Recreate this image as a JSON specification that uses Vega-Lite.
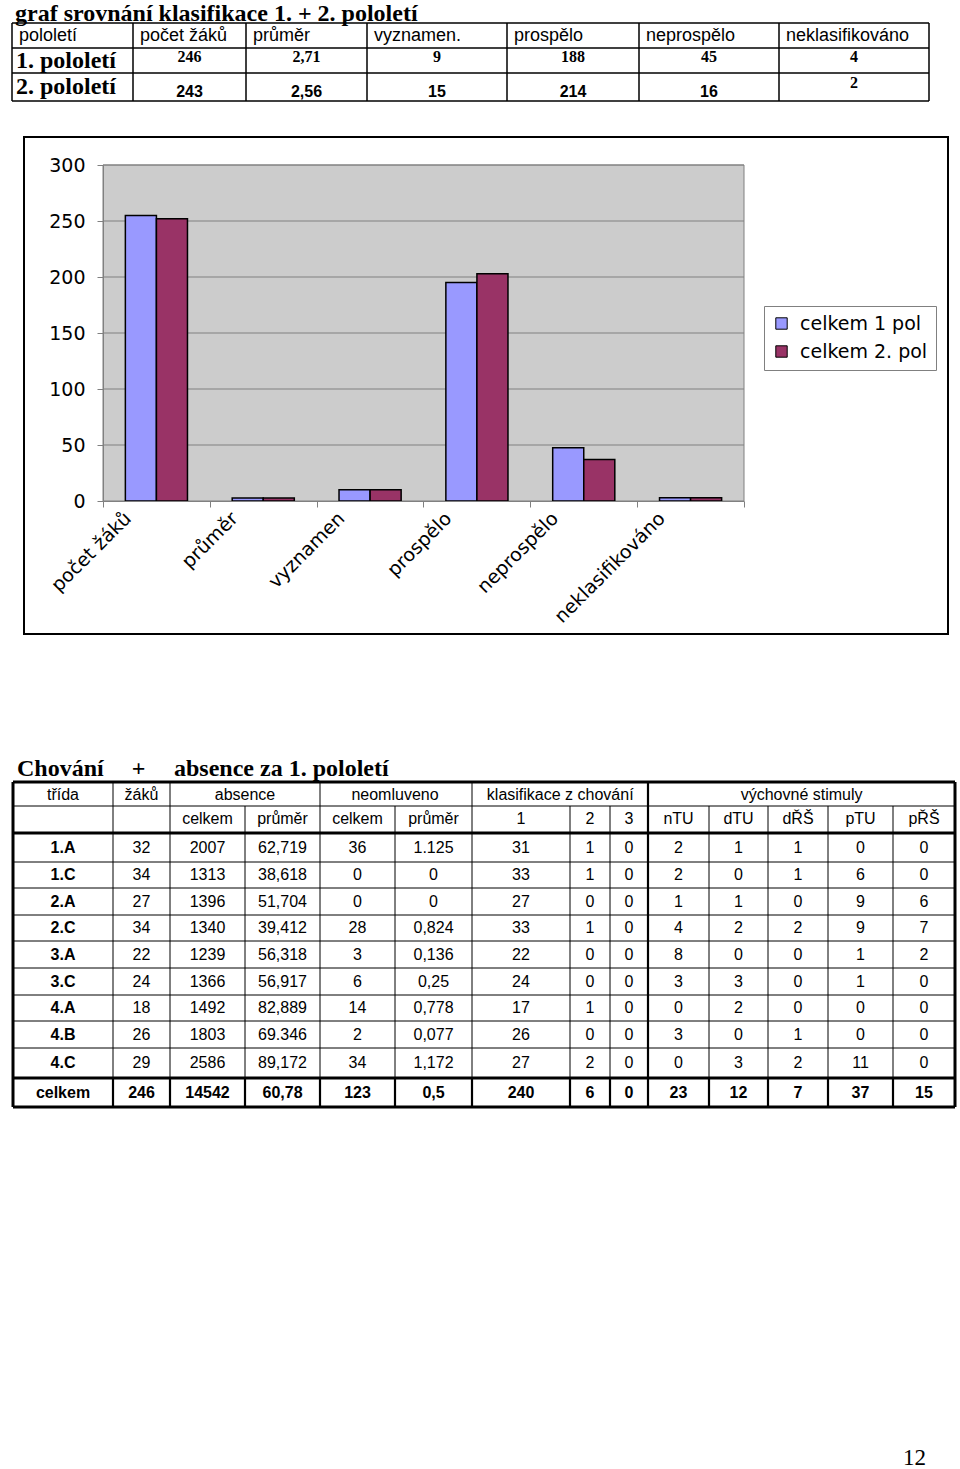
{
"$schema": "https://vega.github.io/schema/vega-lite/v6.json",
"width": 960, "height": 1469, "autosize": "none", "padding": 0, "background": "white",
"config": {"view": {"stroke": null}},
"title": {"text": "12", "orient": "bottom", "anchor": "end", "frame": "group", "offset": -22, "dx": -34, "font": "Liberation Serif", "fontSize": 23, "fontWeight": "normal", "color": "black"},
"datasets": {
 "bars": [
  {"kat": "počet žáků", "pol": "celkem 1 pol", "v": 255}, {"kat": "počet žáků", "pol": "celkem 2. pol", "v": 252},
  {"kat": "průměr", "pol": "celkem 1 pol", "v": 2.7}, {"kat": "průměr", "pol": "celkem 2. pol", "v": 2.6},
  {"kat": "vyznamen", "pol": "celkem 1 pol", "v": 10}, {"kat": "vyznamen", "pol": "celkem 2. pol", "v": 10},
  {"kat": "prospělo", "pol": "celkem 1 pol", "v": 195}, {"kat": "prospělo", "pol": "celkem 2. pol", "v": 203},
  {"kat": "neprospělo", "pol": "celkem 1 pol", "v": 47.5}, {"kat": "neprospělo", "pol": "celkem 2. pol", "v": 37},
  {"kat": "neklasifikováno", "pol": "celkem 1 pol", "v": 3}, {"kat": "neklasifikováno", "pol": "celkem 2. pol", "v": 3}
 ],
 "t1_head": [{"r":0,"c":0,"t":"pololetí"},{"r":0,"c":1,"t":"počet žáků"},{"r":0,"c":2,"t":"průměr"},{"r":0,"c":3,"t":"vyznamen."},{"r":0,"c":4,"t":"prospělo"},{"r":0,"c":5,"t":"neprospělo"},{"r":0,"c":6,"t":"neklasifikováno"}],
 "t1_label": [{"r":1,"c":0,"t":"1. pololetí"},{"r":2,"c":0,"t":"2. pololetí"}],
 "t1_serif": [{"r":1,"c":1,"t":"246"},{"r":1,"c":2,"t":"2,71"},{"r":1,"c":3,"t":"9"},{"r":1,"c":4,"t":"188"},{"r":1,"c":5,"t":"45"},{"r":1,"c":6,"t":"4"},{"r":2,"c":6,"t":"2"}],
 "t1_sans": [{"r":2,"c":1,"t":"243"},{"r":2,"c":2,"t":"2,56"},{"r":2,"c":3,"t":"15"},{"r":2,"c":4,"t":"214"},{"r":2,"c":5,"t":"16"}],
 "t2_cols": [{"key":"trida","c":0},{"key":"zaku","c":1},{"key":"abs_c","c":2},{"key":"abs_p","c":3},{"key":"neo_c","c":4},{"key":"neo_p","c":5},{"key":"k1","c":6},{"key":"k2","c":7},{"key":"k3","c":8},{"key":"nTU","c":9},{"key":"dTU","c":10},{"key":"dRS","c":11},{"key":"pTU","c":12},{"key":"pRS","c":13}],
 "t2_head0": [{"r":0,"cm":0.5,"t":"třída"},{"r":0,"cm":1.5,"t":"žáků"},{"r":0,"cm":3,"t":"absence"},{"r":0,"cm":5,"t":"neomluveno"},{"r":0,"cm":6.9,"t":"klasifikace z chování"},{"r":0,"cm":11.56,"t":"výchovné stimuly"}],
 "t2_head1": [{"r":1,"c":2,"t":"celkem"},{"r":1,"c":3,"t":"průměr"},{"r":1,"c":4,"t":"celkem"},{"r":1,"c":5,"t":"průměr"},{"r":1,"c":6,"t":"1"},{"r":1,"c":7,"t":"2"},{"r":1,"c":8,"t":"3"},{"r":1,"c":9,"t":"nTU"},{"r":1,"c":10,"t":"dTU"},{"r":1,"c":11,"t":"dŘŠ"},{"r":1,"c":12,"t":"pTU"},{"r":1,"c":13,"t":"pŘŠ"}],
 "t2_rows": [
  {"r":2,"trida":"1.A","zaku":"32","abs_c":"2007","abs_p":"62,719","neo_c":"36","neo_p":"1.125","k1":"31","k2":"1","k3":"0","nTU":"2","dTU":"1","dRS":"1","pTU":"0","pRS":"0"},
  {"r":3,"trida":"1.C","zaku":"34","abs_c":"1313","abs_p":"38,618","neo_c":"0","neo_p":"0","k1":"33","k2":"1","k3":"0","nTU":"2","dTU":"0","dRS":"1","pTU":"6","pRS":"0"},
  {"r":4,"trida":"2.A","zaku":"27","abs_c":"1396","abs_p":"51,704","neo_c":"0","neo_p":"0","k1":"27","k2":"0","k3":"0","nTU":"1","dTU":"1","dRS":"0","pTU":"9","pRS":"6"},
  {"r":5,"trida":"2.C","zaku":"34","abs_c":"1340","abs_p":"39,412","neo_c":"28","neo_p":"0,824","k1":"33","k2":"1","k3":"0","nTU":"4","dTU":"2","dRS":"2","pTU":"9","pRS":"7"},
  {"r":6,"trida":"3.A","zaku":"22","abs_c":"1239","abs_p":"56,318","neo_c":"3","neo_p":"0,136","k1":"22","k2":"0","k3":"0","nTU":"8","dTU":"0","dRS":"0","pTU":"1","pRS":"2"},
  {"r":7,"trida":"3.C","zaku":"24","abs_c":"1366","abs_p":"56,917","neo_c":"6","neo_p":"0,25","k1":"24","k2":"0","k3":"0","nTU":"3","dTU":"3","dRS":"0","pTU":"1","pRS":"0"},
  {"r":8,"trida":"4.A","zaku":"18","abs_c":"1492","abs_p":"82,889","neo_c":"14","neo_p":"0,778","k1":"17","k2":"1","k3":"0","nTU":"0","dTU":"2","dRS":"0","pTU":"0","pRS":"0"},
  {"r":9,"trida":"4.B","zaku":"26","abs_c":"1803","abs_p":"69.346","neo_c":"2","neo_p":"0,077","k1":"26","k2":"0","k3":"0","nTU":"3","dTU":"0","dRS":"1","pTU":"0","pRS":"0"},
  {"r":10,"trida":"4.C","zaku":"29","abs_c":"2586","abs_p":"89,172","neo_c":"34","neo_p":"1,172","k1":"27","k2":"2","k3":"0","nTU":"0","dTU":"3","dRS":"2","pTU":"11","pRS":"0"}
 ],
 "t2_total": [{"r":11,"trida":"celkem","zaku":"246","abs_c":"14542","abs_p":"60,78","neo_c":"123","neo_p":"0,5","k1":"240","k2":"6","k3":"0","nTU":"23","dTU":"12","dRS":"7","pTU":"37","pRS":"15"}],
 "t2_v": [{"c":0,"r0":0},{"c":1,"r0":0},{"c":2,"r0":0},{"c":3,"r0":1},{"c":4,"r0":0},{"c":5,"r0":1},{"c":6,"r0":0},{"c":7,"r0":1},{"c":8,"r0":1},{"c":9,"r0":0},{"c":10,"r0":1},{"c":11,"r0":1},{"c":12,"r0":1},{"c":13,"r0":1},{"c":14,"r0":0}],
 "t2_h": [{"r":0},{"r":1},{"r":2},{"r":3},{"r":4},{"r":5},{"r":6},{"r":7},{"r":8},{"r":9},{"r":10},{"r":11},{"r":12}],
 "t2_thick3": [{"c0":0,"c1":14,"r0":0,"r1":0},{"c0":0,"c1":14,"r0":12,"r1":12},{"c0":0,"c1":0,"r0":0,"r1":12},{"c0":14,"c1":14,"r0":0,"r1":12},{"c0":0,"c1":14,"r0":2,"r1":2},{"c0":0,"c1":14,"r0":11,"r1":11}],
 "t2_thick2": [{"c0":9,"c1":9,"r0":0,"r1":11},{"c0":1,"c1":1,"r0":11,"r1":12},{"c0":2,"c1":2,"r0":11,"r1":12},{"c0":3,"c1":3,"r0":11,"r1":12},{"c0":4,"c1":4,"r0":11,"r1":12},{"c0":5,"c1":5,"r0":11,"r1":12},{"c0":6,"c1":6,"r0":11,"r1":12},{"c0":7,"c1":7,"r0":11,"r1":12},{"c0":8,"c1":8,"r0":11,"r1":12},{"c0":9,"c1":9,"r0":11,"r1":12},{"c0":10,"c1":10,"r0":11,"r1":12},{"c0":11,"c1":11,"r0":11,"r1":12},{"c0":12,"c1":12,"r0":11,"r1":12},{"c0":13,"c1":13,"r0":11,"r1":12}]
},
"resolve": {"scale": {"x": "independent", "y": "independent", "color": "independent"}, "axis": {"x": "independent", "y": "independent"}},
"layer": [
 {
  "data": {"values": [{}]},
  "mark": {"type": "rect", "fill": "white", "stroke": "black", "strokeWidth": 2},
  "encoding": {
   "x": {"datum": 0, "type": "quantitative", "scale": {"domain": [0, 1], "range": [24, 948], "zero": false, "nice": false}, "axis": null},
   "x2": {"datum": 1},
   "y": {"datum": 0, "type": "quantitative", "scale": {"domain": [0, 1], "range": [137, 634], "zero": false, "nice": false}, "axis": null},
   "y2": {"datum": 1}
  }
 },
 {
  "layer": [
   {
    "data": {"values": [{}]},
    "mark": {"type": "rect", "fill": "#cccccc", "stroke": "#808080", "strokeWidth": 1},
    "encoding": {
     "x": {"datum": 0, "type": "quantitative", "scale": {"domain": [0, 1], "range": [103, 744], "zero": false, "nice": false}, "axis": null},
     "x2": {"datum": 1},
     "y": {"datum": 0, "type": "quantitative", "scale": {"domain": [0, 300], "range": [501, 165], "zero": false, "nice": false}, "axis": null},
     "y2": {"datum": 300}
    }
   },
   {
    "data": {"values": [{"g": 50}, {"g": 100}, {"g": 150}, {"g": 200}, {"g": 250}, {"g": 300}]},
    "mark": {"type": "rule", "stroke": "#808080", "strokeWidth": 1},
    "encoding": {
     "x": {"datum": 0, "type": "quantitative", "scale": {"domain": [0, 1], "range": [103, 744], "zero": false, "nice": false}, "axis": null},
     "x2": {"datum": 1},
     "y": {"field": "g", "type": "quantitative", "scale": {"domain": [0, 300], "range": [501, 165], "zero": false, "nice": false}, "axis": null}
    }
   }
  ]
 },
 {
  "data": {"name": "bars"},
  "mark": {"type": "bar", "stroke": "black", "strokeWidth": 1.5},
  "encoding": {
   "x": {"field": "kat", "type": "nominal", "sort": null,
    "scale": {"domain": ["počet žáků", "průměr", "vyznamen", "prospělo", "neprospělo", "neklasifikováno"], "range": [103, 744], "paddingInner": 0, "paddingOuter": 0},
    "axis": {"orient": "bottom", "offset": -968, "zindex": 2, "title": null, "tickBand": "extent", "labelAngle": -45, "labelAlign": "right", "labelBaseline": "middle", "labelOffset": -29, "labelPadding": 8, "tickSize": 6, "tickColor": "#808080", "domainColor": "#808080", "labelFont": "DejaVu Sans", "labelFontSize": 19, "labelColor": "black", "labelLimit": 0, "labelOverlap": false}},
   "xOffset": {"field": "pol", "type": "nominal", "scale": {"domain": ["celkem 1 pol", "celkem 2. pol"], "paddingInner": 0, "paddingOuter": 0.72}},
   "y": {"field": "v", "type": "quantitative",
    "scale": {"domain": [0, 300], "range": [501, 165], "nice": false},
    "axis": {"orient": "left", "offset": -103, "zindex": 2, "title": null, "values": [0, 50, 100, 150, 200, 250, 300], "grid": false, "tickSize": 6, "tickColor": "#808080", "domainColor": "#808080", "labelFont": "DejaVu Sans", "labelFontSize": 19, "labelColor": "black", "labelPadding": 12}},
   "color": {"field": "pol", "type": "nominal",
    "scale": {"domain": ["celkem 1 pol", "celkem 2. pol"], "range": ["#9999ff", "#993366"]},
    "legend": {"title": null, "orient": "none", "legendX": 764, "legendY": 306, "zindex": 2, "fillColor": "white", "strokeColor": "#808080", "padding": 8, "symbolType": "square", "symbolSize": 130, "symbolStrokeColor": "black", "symbolStrokeWidth": 1, "labelFont": "DejaVu Sans", "labelFontSize": 19, "labelColor": "black", "rowPadding": 8, "labelOffset": 9}}
  }
 },
 {
  "layer": [
   {
    "data": {"values": [{"c":0},{"c":1},{"c":2},{"c":3},{"c":4},{"c":5},{"c":6},{"c":7}]},
    "mark": {"type": "rule", "stroke": "black", "strokeWidth": 1.5},
    "encoding": {
     "x": {"field": "c", "type": "quantitative", "scale": {"domain": [0,1,2,3,4,5,6,7], "range": [12,133,246,367,507,639,779,929], "zero": false, "nice": false}, "axis": null},
     "y": {"datum": 0, "type": "quantitative", "scale": {"domain": [-1,0,1,2,3], "range": [21,23,48,73,101], "zero": false, "nice": false}, "axis": null},
     "y2": {"datum": 3}
    }
   },
   {
    "data": {"values": [{"r":0},{"r":1},{"r":2},{"r":3}]},
    "mark": {"type": "rule", "stroke": "black", "strokeWidth": 1.5},
    "encoding": {
     "x": {"datum": 0, "type": "quantitative", "scale": {"domain": [0,1,2,3,4,5,6,7], "range": [12,133,246,367,507,639,779,929], "zero": false, "nice": false}, "axis": null},
     "x2": {"datum": 7},
     "y": {"field": "r", "type": "quantitative", "scale": {"domain": [-1,0,1,2,3], "range": [21,23,48,73,101], "zero": false, "nice": false}, "axis": null}
    }
   },
   {
    "data": {"values": [{"r": -1, "c": 0, "t": "graf srovnání klasifikace 1. + 2. pololetí"}]},
    "mark": {"type": "text", "align": "left", "baseline": "alphabetic", "dx": 3, "font": "Liberation Serif", "fontWeight": "bold", "fontSize": 24, "color": "black"},
    "encoding": {
     "x": {"field": "c", "type": "quantitative", "scale": {"domain": [0,1,2,3,4,5,6,7], "range": [12,133,246,367,507,639,779,929], "zero": false, "nice": false}, "axis": null},
     "y": {"field": "r", "type": "quantitative", "scale": {"domain": [-1,0,1,2,3], "range": [21,23,48,73,101], "zero": false, "nice": false}, "axis": null},
     "text": {"field": "t"}
    }
   },
   {
    "data": {"name": "t1_head"},
    "transform": [{"calculate": "datum.r + 0.5", "as": "ym"}],
    "mark": {"type": "text", "align": "left", "baseline": "middle", "dx": 7, "font": "Liberation Sans", "fontSize": 18, "color": "black"},
    "encoding": {
     "x": {"field": "c", "type": "quantitative", "scale": {"domain": [0,1,2,3,4,5,6,7], "range": [12,133,246,367,507,639,779,929], "zero": false, "nice": false}, "axis": null},
     "y": {"field": "ym", "type": "quantitative", "scale": {"domain": [-1,0,1,2,3], "range": [21,23,48,73,101], "zero": false, "nice": false}, "axis": null},
     "text": {"field": "t"}
    }
   },
   {
    "data": {"name": "t1_label"},
    "transform": [{"calculate": "datum.r + 0.5", "as": "ym"}],
    "mark": {"type": "text", "align": "left", "baseline": "middle", "dx": 4, "font": "Liberation Serif", "fontWeight": "bold", "fontSize": 24, "color": "black"},
    "encoding": {
     "x": {"field": "c", "type": "quantitative", "scale": {"domain": [0,1,2,3,4,5,6,7], "range": [12,133,246,367,507,639,779,929], "zero": false, "nice": false}, "axis": null},
     "y": {"field": "ym", "type": "quantitative", "scale": {"domain": [-1,0,1,2,3], "range": [21,23,48,73,101], "zero": false, "nice": false}, "axis": null},
     "text": {"field": "t"}
    }
   },
   {
    "data": {"name": "t1_serif"},
    "transform": [{"calculate": "datum.r + 0.5", "as": "ym"}, {"calculate": "datum.c + 0.5", "as": "xm"}],
    "mark": {"type": "text", "align": "center", "baseline": "middle", "dy": -4, "font": "Liberation Serif", "fontWeight": "bold", "fontSize": 16, "color": "black"},
    "encoding": {
     "x": {"field": "xm", "type": "quantitative", "scale": {"domain": [0,1,2,3,4,5,6,7], "range": [12,133,246,367,507,639,779,929], "zero": false, "nice": false}, "axis": null},
     "y": {"field": "ym", "type": "quantitative", "scale": {"domain": [-1,0,1,2,3], "range": [21,23,48,73,101], "zero": false, "nice": false}, "axis": null},
     "text": {"field": "t"}
    }
   },
   {
    "data": {"name": "t1_sans"},
    "transform": [{"calculate": "datum.r + 0.5", "as": "ym"}, {"calculate": "datum.c + 0.5", "as": "xm"}],
    "mark": {"type": "text", "align": "center", "baseline": "middle", "dy": 5, "font": "Liberation Sans", "fontWeight": "bold", "fontSize": 16, "color": "black"},
    "encoding": {
     "x": {"field": "xm", "type": "quantitative", "scale": {"domain": [0,1,2,3,4,5,6,7], "range": [12,133,246,367,507,639,779,929], "zero": false, "nice": false}, "axis": null},
     "y": {"field": "ym", "type": "quantitative", "scale": {"domain": [-1,0,1,2,3], "range": [21,23,48,73,101], "zero": false, "nice": false}, "axis": null},
     "text": {"field": "t"}
    }
   }
  ]
 },
 {
  "layer": [
   {
    "data": {"name": "t2_v"},
    "mark": {"type": "rule", "stroke": "black", "strokeWidth": 1},
    "encoding": {
     "x": {"field": "c", "type": "quantitative", "scale": {"domain": [0,1,2,3,4,5,6,7,8,9,10,11,12,13,14], "range": [13,113,170,245,320,395,472,570,610,648,709,768,828,893,955], "zero": false, "nice": false}, "axis": null},
     "y": {"field": "r0", "type": "quantitative", "scale": {"domain": [-1,0,1,2,3,4,5,6,7,8,9,10,11,12], "range": [776,782,806,833,862,888,915,941,968,995,1021,1048,1078,1107], "zero": false, "nice": false}, "axis": null},
     "y2": {"datum": 12}
    }
   },
   {
    "data": {"name": "t2_h"},
    "mark": {"type": "rule", "stroke": "black", "strokeWidth": 1},
    "encoding": {
     "x": {"datum": 0, "type": "quantitative", "scale": {"domain": [0,1,2,3,4,5,6,7,8,9,10,11,12,13,14], "range": [13,113,170,245,320,395,472,570,610,648,709,768,828,893,955], "zero": false, "nice": false}, "axis": null},
     "x2": {"datum": 14},
     "y": {"field": "r", "type": "quantitative", "scale": {"domain": [-1,0,1,2,3,4,5,6,7,8,9,10,11,12], "range": [776,782,806,833,862,888,915,941,968,995,1021,1048,1078,1107], "zero": false, "nice": false}, "axis": null}
    }
   },
   {
    "data": {"name": "t2_thick3"},
    "mark": {"type": "rule", "stroke": "black", "strokeWidth": 3},
    "encoding": {
     "x": {"field": "c0", "type": "quantitative", "scale": {"domain": [0,1,2,3,4,5,6,7,8,9,10,11,12,13,14], "range": [13,113,170,245,320,395,472,570,610,648,709,768,828,893,955], "zero": false, "nice": false}, "axis": null},
     "x2": {"field": "c1"},
     "y": {"field": "r0", "type": "quantitative", "scale": {"domain": [-1,0,1,2,3,4,5,6,7,8,9,10,11,12], "range": [776,782,806,833,862,888,915,941,968,995,1021,1048,1078,1107], "zero": false, "nice": false}, "axis": null},
     "y2": {"field": "r1"}
    }
   },
   {
    "data": {"name": "t2_thick2"},
    "mark": {"type": "rule", "stroke": "black", "strokeWidth": 2.2},
    "encoding": {
     "x": {"field": "c0", "type": "quantitative", "scale": {"domain": [0,1,2,3,4,5,6,7,8,9,10,11,12,13,14], "range": [13,113,170,245,320,395,472,570,610,648,709,768,828,893,955], "zero": false, "nice": false}, "axis": null},
     "x2": {"field": "c1"},
     "y": {"field": "r0", "type": "quantitative", "scale": {"domain": [-1,0,1,2,3,4,5,6,7,8,9,10,11,12], "range": [776,782,806,833,862,888,915,941,968,995,1021,1048,1078,1107], "zero": false, "nice": false}, "axis": null},
     "y2": {"field": "r1"}
    }
   },
   {
    "data": {"values": [{"r": -1, "c": 0, "t": "Chování"}, {"r": -1, "c": 2, "t": "absence za 1. pololetí"}]},
    "mark": {"type": "text", "align": "left", "baseline": "alphabetic", "dx": 4, "font": "Liberation Serif", "fontWeight": "bold", "fontSize": 24, "color": "black"},
    "encoding": {
     "x": {"field": "c", "type": "quantitative", "scale": {"domain": [0,1,2,3,4,5,6,7,8,9,10,11,12,13,14], "range": [13,113,170,245,320,395,472,570,610,648,709,768,828,893,955], "zero": false, "nice": false}, "axis": null},
     "y": {"field": "r", "type": "quantitative", "scale": {"domain": [-1,0,1,2,3,4,5,6,7,8,9,10,11,12], "range": [776,782,806,833,862,888,915,941,968,995,1021,1048,1078,1107], "zero": false, "nice": false}, "axis": null},
     "text": {"field": "t"}
    }
   },
   {
    "data": {"values": [{"r": -1, "c": 1, "t": "+"}]},
    "transform": [{"calculate": "datum.c + 0.5", "as": "xm"}],
    "mark": {"type": "text", "align": "center", "baseline": "alphabetic", "dx": -3, "font": "Liberation Serif", "fontWeight": "bold", "fontSize": 24, "color": "black"},
    "encoding": {
     "x": {"field": "xm", "type": "quantitative", "scale": {"domain": [0,1,2,3,4,5,6,7,8,9,10,11,12,13,14], "range": [13,113,170,245,320,395,472,570,610,648,709,768,828,893,955], "zero": false, "nice": false}, "axis": null},
     "y": {"field": "r", "type": "quantitative", "scale": {"domain": [-1,0,1,2,3,4,5,6,7,8,9,10,11,12], "range": [776,782,806,833,862,888,915,941,968,995,1021,1048,1078,1107], "zero": false, "nice": false}, "axis": null},
     "text": {"field": "t"}
    }
   },
   {
    "data": {"name": "t2_head0"},
    "transform": [{"calculate": "datum.r + 0.5", "as": "ym"}],
    "mark": {"type": "text", "align": "center", "baseline": "middle", "dy": 1, "font": "Liberation Sans", "fontSize": 16, "color": "black"},
    "encoding": {
     "x": {"field": "cm", "type": "quantitative", "scale": {"domain": [0,1,2,3,4,5,6,7,8,9,10,11,12,13,14], "range": [13,113,170,245,320,395,472,570,610,648,709,768,828,893,955], "zero": false, "nice": false}, "axis": null},
     "y": {"field": "ym", "type": "quantitative", "scale": {"domain": [-1,0,1,2,3,4,5,6,7,8,9,10,11,12], "range": [776,782,806,833,862,888,915,941,968,995,1021,1048,1078,1107], "zero": false, "nice": false}, "axis": null},
     "text": {"field": "t"}
    }
   },
   {
    "data": {"name": "t2_head1"},
    "transform": [{"calculate": "datum.c + 0.5", "as": "xm"}, {"calculate": "datum.r + 0.5", "as": "ym"}],
    "mark": {"type": "text", "align": "center", "baseline": "middle", "dy": -1, "font": "Liberation Sans", "fontSize": 16, "color": "black"},
    "encoding": {
     "x": {"field": "xm", "type": "quantitative", "scale": {"domain": [0,1,2,3,4,5,6,7,8,9,10,11,12,13,14], "range": [13,113,170,245,320,395,472,570,610,648,709,768,828,893,955], "zero": false, "nice": false}, "axis": null},
     "y": {"field": "ym", "type": "quantitative", "scale": {"domain": [-1,0,1,2,3,4,5,6,7,8,9,10,11,12], "range": [776,782,806,833,862,888,915,941,968,995,1021,1048,1078,1107], "zero": false, "nice": false}, "axis": null},
     "text": {"field": "t"}
    }
   },
   {
    "data": {"name": "t2_rows"},
    "transform": [
     {"fold": ["trida"], "as": ["key", "t"]},
     {"lookup": "key", "from": {"data": {"name": "t2_cols"}, "key": "key", "fields": ["c"]}},
     {"calculate": "datum.c + 0.5", "as": "xm"}, {"calculate": "datum.r + 0.5", "as": "ym"}
    ],
    "mark": {"type": "text", "align": "center", "baseline": "middle", "font": "Liberation Sans", "fontWeight": "bold", "fontSize": 16, "color": "black"},
    "encoding": {
     "x": {"field": "xm", "type": "quantitative", "scale": {"domain": [0,1,2,3,4,5,6,7,8,9,10,11,12,13,14], "range": [13,113,170,245,320,395,472,570,610,648,709,768,828,893,955], "zero": false, "nice": false}, "axis": null},
     "y": {"field": "ym", "type": "quantitative", "scale": {"domain": [-1,0,1,2,3,4,5,6,7,8,9,10,11,12], "range": [776,782,806,833,862,888,915,941,968,995,1021,1048,1078,1107], "zero": false, "nice": false}, "axis": null},
     "text": {"field": "t"}
    }
   },
   {
    "data": {"name": "t2_rows"},
    "transform": [
     {"fold": ["zaku", "abs_c", "abs_p", "neo_c", "neo_p", "k1", "k2", "k3", "nTU", "dTU", "dRS", "pTU", "pRS"], "as": ["key", "t"]},
     {"lookup": "key", "from": {"data": {"name": "t2_cols"}, "key": "key", "fields": ["c"]}},
     {"calculate": "datum.c + 0.5", "as": "xm"}, {"calculate": "datum.r + 0.5", "as": "ym"}
    ],
    "mark": {"type": "text", "align": "center", "baseline": "middle", "font": "Liberation Sans", "fontSize": 16, "color": "black"},
    "encoding": {
     "x": {"field": "xm", "type": "quantitative", "scale": {"domain": [0,1,2,3,4,5,6,7,8,9,10,11,12,13,14], "range": [13,113,170,245,320,395,472,570,610,648,709,768,828,893,955], "zero": false, "nice": false}, "axis": null},
     "y": {"field": "ym", "type": "quantitative", "scale": {"domain": [-1,0,1,2,3,4,5,6,7,8,9,10,11,12], "range": [776,782,806,833,862,888,915,941,968,995,1021,1048,1078,1107], "zero": false, "nice": false}, "axis": null},
     "text": {"field": "t"}
    }
   },
   {
    "data": {"name": "t2_total"},
    "transform": [
     {"fold": ["trida", "zaku", "abs_c", "abs_p", "neo_c", "neo_p", "k1", "k2", "k3", "nTU", "dTU", "dRS", "pTU", "pRS"], "as": ["key", "t"]},
     {"lookup": "key", "from": {"data": {"name": "t2_cols"}, "key": "key", "fields": ["c"]}},
     {"calculate": "datum.c + 0.5", "as": "xm"}, {"calculate": "datum.r + 0.5", "as": "ym"}
    ],
    "mark": {"type": "text", "align": "center", "baseline": "middle", "font": "Liberation Sans", "fontWeight": "bold", "fontSize": 16, "color": "black"},
    "encoding": {
     "x": {"field": "xm", "type": "quantitative", "scale": {"domain": [0,1,2,3,4,5,6,7,8,9,10,11,12,13,14], "range": [13,113,170,245,320,395,472,570,610,648,709,768,828,893,955], "zero": false, "nice": false}, "axis": null},
     "y": {"field": "ym", "type": "quantitative", "scale": {"domain": [-1,0,1,2,3,4,5,6,7,8,9,10,11,12], "range": [776,782,806,833,862,888,915,941,968,995,1021,1048,1078,1107], "zero": false, "nice": false}, "axis": null},
     "text": {"field": "t"}
    }
   }
  ]
 }
]
}
